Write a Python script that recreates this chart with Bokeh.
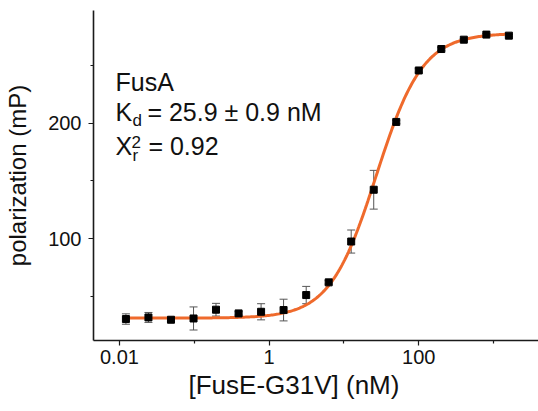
import numpy as np
from bokeh.plotting import figure
from bokeh.models import (Range1d, FixedTicker, ColumnDataSource, Whisker, TeeHead,
                          Label, Title)
from bokeh.embed import file_html
from bokeh.resources import INLINE

# ---- data ----
conc_nM = [0.0122, 0.0244, 0.0488, 0.0977, 0.195, 0.391, 0.781, 1.56, 3.13,
           6.25, 12.5, 25.0, 50.0, 100.0, 200.0, 400.0, 800.0, 1600.0]
polarization = [30.2, 31.6, 29.6, 30.7, 38.3, 35.1, 36.5, 38.0, 51.0,
                62.0, 97.4, 142.3, 201.1, 245.7, 264.3, 272.4, 276.8, 275.9]
error = [4.5, 4.3, 1.5, 10.0, 5.5, 1.5, 7.0, 9.4, 7.5,
         1.5, 10.0, 16.8, 1.5, 1.5, 1.5, 1.0, 1.0, 1.0]

# fitted binding curve parameters (approximated from the drawn curve)
fit_bottom = 31.0
fit_top = 278.0
fit_half = 27.0
fit_hill = 1.4
fit_xmin = 0.0115
fit_xmax = 1650.0

x_ticks = [0.01, 1, 100]
x_tick_labels = ["0.01", "1", "100"]
x_minor = [0.1, 10, 1000]
y_ticks = [100, 200]
y_tick_labels = ["100", "200"]
y_minor = [50, 150, 250]

x_title = "[FusE-G31V] (nM)"
y_title = "polarization (mP)"
ann_name = "FusA"
ann_kd = ["K", "d", "= 25.9 ± 0.9 nM"]
ann_chi = ["Χ", "2", "r", "= 0.92"]

FONT = "Liberation Sans"
ORANGE = "#EF6A2C"

p = figure(width=538, height=411, x_axis_type="log",
           x_range=Range1d(10 ** -2.347, 10 ** 3.6),
           y_range=Range1d(11.6, 297.7),
           output_backend="svg", toolbar_location=None,
           min_border_left=93, min_border_right=0, min_border_top=10,
           min_border_bottom=71)
p.outline_line_color = None
p.xgrid.visible = False
p.ygrid.visible = False
p.background_fill_color = "white"
p.border_fill_color = "white"

for ax in (p.xaxis[0], p.yaxis[0]):
    ax.axis_line_color = "#1a1a1a"
    ax.axis_line_width = 1.6
    ax.major_tick_line_color = "#1a1a1a"
    ax.minor_tick_line_color = "#1a1a1a"
    ax.major_tick_line_width = 1.2
    ax.minor_tick_line_width = 1.2
    ax.major_tick_out = 5
    ax.major_tick_in = 0
    ax.minor_tick_out = 3
    ax.minor_tick_in = 0
    ax.major_label_text_font = FONT
    ax.major_label_text_font_size = "20px"
    ax.major_label_text_color = "#111111"

p.xaxis.ticker = FixedTicker(ticks=x_ticks, minor_ticks=x_minor)
p.xaxis.major_label_overrides = {t: l for t, l in zip(x_ticks, x_tick_labels)}
p.xaxis.major_label_standoff = 4
p.yaxis.ticker = FixedTicker(ticks=y_ticks, minor_ticks=y_minor)
p.yaxis.major_label_overrides = {t: l for t, l in zip(y_ticks, y_tick_labels)}
p.yaxis.major_label_standoff = 7
p.yaxis.axis_label = y_title
p.yaxis.axis_label_text_font = FONT
p.yaxis.axis_label_text_font_size = "24px"
p.yaxis.axis_label_text_font_style = "normal"
p.yaxis.axis_label_text_color = "#111111"
p.yaxis.axis_label_standoff = 14

xt = Title(text=x_title, align="left", offset=95, text_font=FONT,
           text_font_size="26px", text_font_style="normal",
           text_color="#111111", standoff=2)
p.add_layout(xt, "below")

# fit curve
xf = np.logspace(np.log10(fit_xmin), np.log10(fit_xmax), 300)
yf = fit_bottom + (fit_top - fit_bottom) / (1 + (fit_half / xf) ** fit_hill)
p.line(xf, yf, line_color=ORANGE, line_width=3)

# error bars and points
src = ColumnDataSource(dict(x=conc_nM, y=polarization,
                            lo=[v - e for v, e in zip(polarization, error)],
                            hi=[v + e for v, e in zip(polarization, error)]))
wh = Whisker(source=src, base="x", lower="lo", upper="hi",
             line_color="#555555", line_width=1,
             upper_head=TeeHead(size=8, line_color="#555555", line_width=1),
             lower_head=TeeHead(size=8, line_color="#555555", line_width=1))
p.add_layout(wh)
p.scatter("x", "y", source=src, marker="square", size=7,
          fill_color="black", line_color="black")

def xd(px):
    return 10 ** (-2 + (px - 118) / 75.0)

def yd(py):
    return 200 + (123.3 - py) / 1.15

SHIFT = 7  # label baseline correction

def lab(text, px, py, size):
    p.add_layout(Label(x=xd(px), y=yd(py - SHIFT), text=text, text_font=FONT,
                       text_font_size=size, text_color="#111111",
                       text_baseline="alphabetic", text_align="left"))

lab(ann_name, 114, 89.5, "25px")
lab(ann_kd[0], 114, 119.5, "25px")
lab(ann_kd[1], 131, 128, "17px")
lab(ann_kd[2], 146, 119.5, "25px")
lab(ann_chi[0], 114, 153, "25px")
lab(ann_chi[1], 130, 149, "17px")
lab(ann_chi[2], 131, 163, "17px")
lab(ann_chi[3], 147, 153, "25px")

open("out.html", "w").write(file_html(p, INLINE))
